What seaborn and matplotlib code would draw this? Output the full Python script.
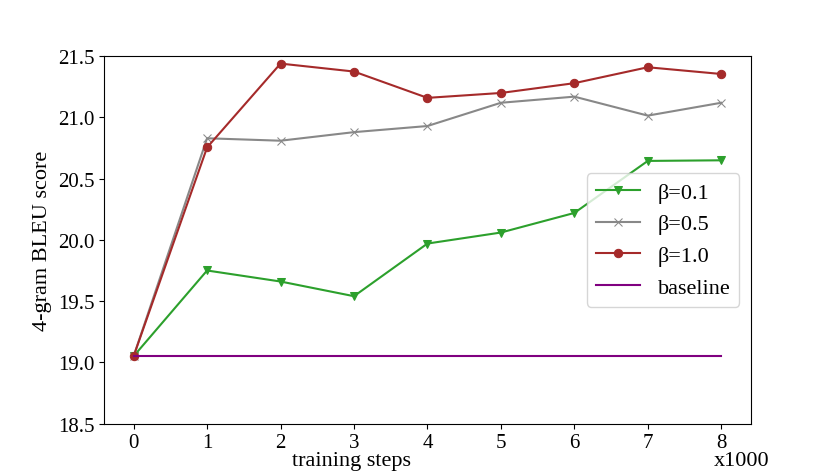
import matplotlib
matplotlib.use("Agg")
import matplotlib.pyplot as plt
import seaborn as sns
import pandas as pd

steps = [0, 1, 2, 3, 4, 5, 6, 7, 8]
beta_01 = [19.05, 19.75, 19.66, 19.54, 19.97, 20.06, 20.22, 20.645, 20.65]
beta_05 = [19.05, 20.83, 20.81, 20.88, 20.93, 21.12, 21.17, 21.015, 21.12]
beta_10 = [19.05, 20.755, 21.44, 21.375, 21.16, 21.20, 21.28, 21.41, 21.355]
baseline = [19.05] * 9

series_names = ["β=0.1", "β=0.5", "β=1.0", "baseline"]
series_values = [beta_01, beta_05, beta_10, baseline]
colors = ["#2ca02c", "#888888", "#a52a2a", "#800080"]
markers = ["v", "x", "o", None]

plt.rcParams["font.family"] = ["Liberation Serif", "DejaVu Serif"]
plt.rcParams["font.size"] = 15

fig, ax = plt.subplots(figsize=(8.34, 4.77), dpi=100)

for name, vals, c, m in zip(series_names, series_values, colors, markers):
    df = pd.DataFrame({"step": steps, "score": vals})
    kw = dict(marker=m, markersize=6, markeredgecolor=c) if m else {}
    sns.lineplot(data=df, x="step", y="score", ax=ax, color=c, label=name,
                 linewidth=1.5, **kw)

ax.set_ylim(18.5, 21.5)
ax.set_yticks([18.5, 19.0, 19.5, 20.0, 20.5, 21.0, 21.5])
ax.set_yticklabels([f"{v:.1f}" for v in [18.5, 19.0, 19.5, 20.0, 20.5, 21.0, 21.5]])
ax.set_xticks(steps)
ax.set_ylabel("4-gram BLEU score", fontsize=16)
ax.set_xlabel("training steps", fontsize=16)
ax.xaxis.set_label_coords(0.383, -0.075)
ax.text(0.986, -0.075, "x1000", transform=ax.transAxes, ha="center", va="top", fontsize=16)
ax.legend(loc="center right", fontsize=16)

fig.savefig("out.png", dpi=100)
